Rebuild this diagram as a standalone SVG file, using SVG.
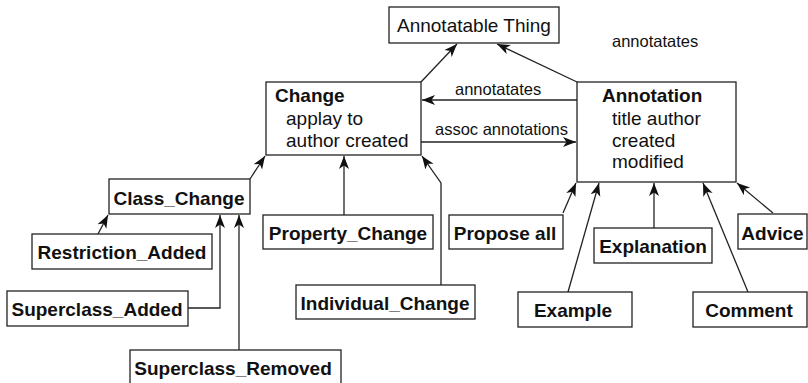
<svg xmlns="http://www.w3.org/2000/svg" width="808" height="383" viewBox="0 0 808 383">
<style>
.box{fill:#fff;stroke:#222;stroke-width:1.3}
.t{font-family:"Liberation Sans",Arial,sans-serif;font-size:19px;fill:#111}
.b{font-weight:bold;text-anchor:middle}
.lbl{font-family:"Liberation Sans",Arial,sans-serif;font-size:16.5px;fill:#111}
.c{fill:none;stroke:#222;stroke-width:1.3;marker-end:url(#arr)}
</style>
<defs>
<marker id="arr" markerUnits="userSpaceOnUse" markerWidth="14" markerHeight="12" viewBox="0 0 14 12" refX="13" refY="6" orient="auto">
<path d="M0,1 L13,6 L0,11 L3.5,6 z" fill="#111"/>
</marker>
</defs>
<rect width="808" height="383" fill="#fff"/>
<g id="connectors">
<path class="c" d="M421,82 L457,44"/>
<path class="c" d="M577,82 L497,44"/>
<path class="c" d="M577,100 L422,100"/>
<path class="c" d="M421,142 L576,142"/>
<path class="c" d="M250,179 L265,156"/>
<path class="c" d="M98,234 L108,215"/>
<path class="c" d="M188,308 L220,308 L220,215"/>
<path class="c" d="M239,350 L239,215"/>
<path class="c" d="M344,215 L344,156"/>
<path class="c" d="M441,285 L441,183 L422,156"/>
<path class="c" d="M563,213 L576,183"/>
<path class="c" d="M568,292 L599,183"/>
<path class="c" d="M654,228 L654,183"/>
<path class="c" d="M748,292 L703,183"/>
<path class="c" d="M773,213 L737,183"/>
<text class="lbl" x="612" y="47">annotatates</text>
<text class="lbl" x="455" y="95">annotatates</text>
<text class="lbl" x="435" y="135">assoc annotations</text>
</g>
<g id="annotatable-thing">
<rect class="box" x="389" y="7" width="170" height="36"/>
<text class="t" x="397" y="32">Annotatable Thing</text>
</g>
<g id="change">
<rect class="box" x="266" y="82" width="155" height="73"/>
<text class="t" x="275" y="102" font-weight="bold">Change</text>
<text class="t" x="286" y="125">applay to</text>
<text class="t" x="286" y="146.5">author created</text>
</g>
<g id="annotation">
<rect class="box" x="577" y="82" width="159" height="100"/>
<text class="t" x="602" y="102" font-weight="bold">Annotation</text>
<text class="t" x="612" y="125">title author</text>
<text class="t" x="612" y="147">created</text>
<text class="t" x="612" y="168">modified</text>
</g>
<g id="class-change">
<rect class="box" x="109" y="179" width="141" height="35"/>
<text class="t b" x="179" y="205">Class_Change</text>
</g>
<g id="restriction-added">
<rect class="box" x="32" y="234" width="180" height="35"/>
<text class="t b" x="122" y="259">Restriction_Added</text>
</g>
<g id="superclass-added">
<rect class="box" x="7" y="291" width="181" height="35"/>
<text class="t b" x="97" y="316">Superclass_Added</text>
</g>
<g id="superclass-removed">
<rect class="box" x="130" y="350" width="211" height="40"/>
<text class="t b" x="233" y="375">Superclass_Removed</text>
</g>
<g id="property-change">
<rect class="box" x="263" y="215" width="170" height="34"/>
<text class="t b" x="348" y="240">Property_Change</text>
</g>
<g id="individual-change">
<rect class="box" x="296" y="285" width="179" height="34"/>
<text class="t b" x="385" y="310">Individual_Change</text>
</g>
<g id="propose-all">
<rect class="box" x="449" y="215" width="114" height="34"/>
<text class="t b" x="505" y="240">Propose all</text>
</g>
<g id="explanation">
<rect class="box" x="594" y="228" width="118" height="35"/>
<text class="t b" x="653" y="253">Explanation</text>
</g>
<g id="advice">
<rect class="box" x="738" y="214" width="69" height="35"/>
<text class="t b" x="772.5" y="240">Advice</text>
</g>
<g id="example">
<rect class="box" x="518" y="292" width="114" height="35"/>
<text class="t b" x="573" y="317">Example</text>
</g>
<g id="comment">
<rect class="box" x="693" y="292" width="114" height="35"/>
<text class="t b" x="749" y="317">Comment</text>
</g>
</svg>
